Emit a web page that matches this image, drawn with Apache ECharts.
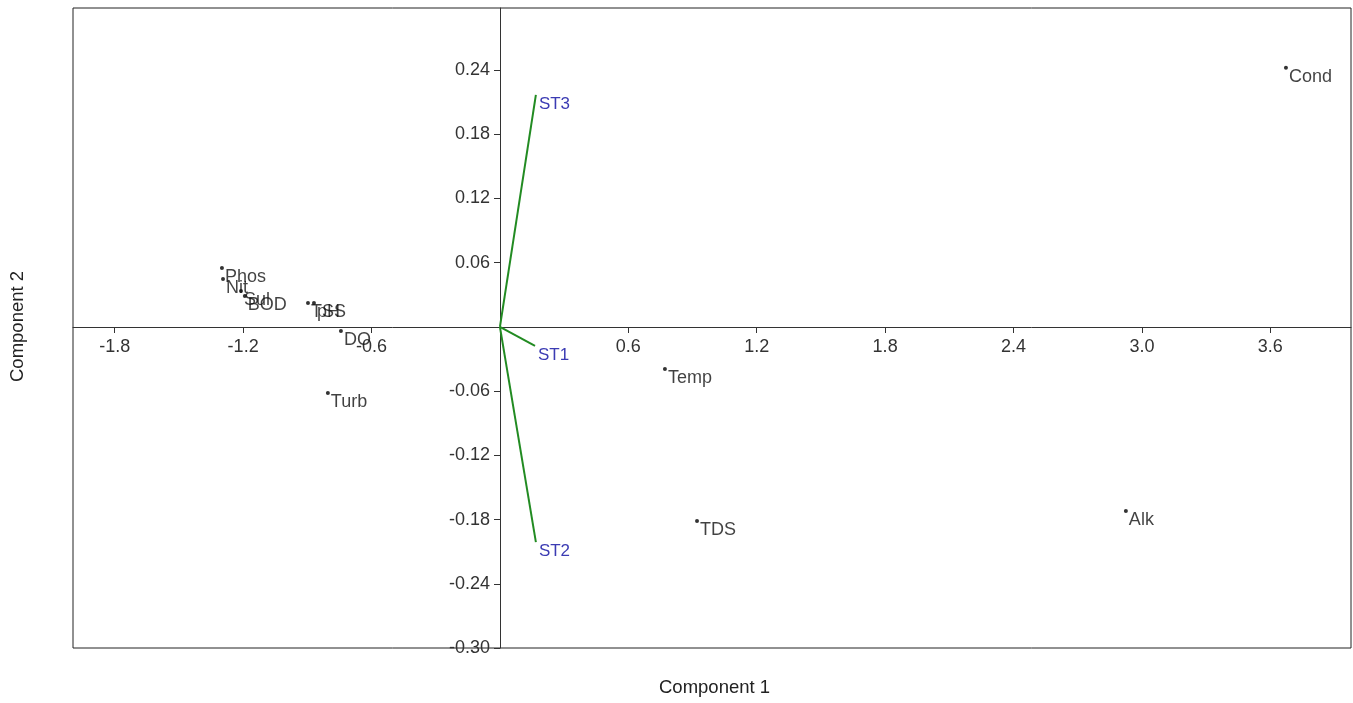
<!DOCTYPE html>
<html>
<head>
<meta charset="utf-8">
<script src="https://cdn.jsdelivr.net/npm/echarts@6/dist/echarts.min.js"></script>
<style>
  html, body { margin: 0; padding: 0; background: #fff; }
  #chart { width: 1353px; height: 703px; }
</style>
</head>
<body>
<div id="chart"></div>
<script>
// Variable scores (Component 1, Component 2)
const varNames = ['Phos', 'Nit', 'Sul', 'BOD', 'TSS', 'pH', 'DO', 'Turb', 'Temp', 'TDS', 'Alk', 'Cond'];
const comp1 = [-1.299, -1.294, -1.210, -1.192, -0.897, -0.869, -0.743, -0.804, 0.771, 0.921, 2.925, 3.673];
const comp2 = [0.0551, 0.0449, 0.0336, 0.0290, 0.0224, 0.0224, -0.0037, -0.0617, -0.0393, -0.1813, -0.1720, 0.2421];

// Station loading vectors
const stNames = ['ST1', 'ST2', 'ST3'];
const stX = [0.164, 0.168, 0.168];
const stY = [-0.0178, -0.201, 0.2168];

// Tick labels
const xTicks = [-1.8, -1.2, -0.6, 0.6, 1.2, 1.8, 2.4, 3.0, 3.6];
const yTicks = [0.24, 0.18, 0.12, 0.06, -0.06, -0.12, -0.18, -0.24, -0.30];

const chart = echarts.init(document.getElementById('chart'));
const font = 'Arial, "Liberation Sans", sans-serif';

const vectorSeries = stNames.map((n, i) => ({
  type: 'line',
  name: n,
  data: [[0, 0], [stX[i], stY[i]]],
  symbol: 'none',
  lineStyle: { color: '#228B22', width: 2 },
  endLabel: {
    show: true,
    formatter: '{a}',
    color: '#3b3bb3',
    fontSize: 17,
    fontFamily: font,
    distance: 3,
    offset: [0, 9]
  },
  z: 3
}));

chart.setOption({
  animation: false,
  grid: {
    left: 73, right: 2, top: 8, bottom: 55,
    show: true, borderColor: '#222', borderWidth: 1, containLabel: false
  },
  graphic: [
    { type: 'text', x: 659, y: 678, style: { text: 'Component 1', fontSize: 18.5, fontFamily: font, fill: '#222' } },
    { type: 'text', x: 8, y: 382, rotation: Math.PI / 2, style: { text: 'Component 2', fontSize: 18.5, fontFamily: font, fill: '#222' } }
  ],
  xAxis: {
    type: 'value',
    position: 'bottom',
    offset: -321,
    min: -1.995, max: 3.977,
    splitLine: { show: false },
    axisLine: { onZero: false, lineStyle: { color: '#333', width: 1 } },
    axisTick: { show: true, customValues: xTicks, length: 6, lineStyle: { color: '#333' } },
    axisLabel: {
      customValues: xTicks,
      formatter: v => v.toFixed(1),
      fontSize: 18, fontFamily: font, color: '#333', margin: 11
    }
  },
  yAxis: {
    type: 'value',
    position: 'left',
    offset: -427,
    min: -0.30, max: 0.298,
    splitLine: { show: false },
    axisLine: { onZero: false, lineStyle: { color: '#333', width: 1 } },
    axisTick: { show: true, customValues: yTicks, length: 6, lineStyle: { color: '#333' } },
    axisLabel: {
      customValues: yTicks,
      formatter: v => v.toFixed(2),
      fontSize: 18, fontFamily: font, color: '#333', margin: 10
    }
  },
  series: [
    ...vectorSeries,
    {
      type: 'scatter',
      data: varNames.map((n, i) => ({ name: n, value: [comp1[i], comp2[i]] })),
      symbol: 'circle',
      symbolSize: 4,
      itemStyle: { color: '#000' },
      label: {
        show: true,
        formatter: '{b}',
        position: 'right',
        distance: 1,
        offset: [0, 9],
        fontSize: 18,
        fontFamily: font,
        color: '#111'
      },
      z: 4
    }
  ]
});
</script>
</body>
</html>
